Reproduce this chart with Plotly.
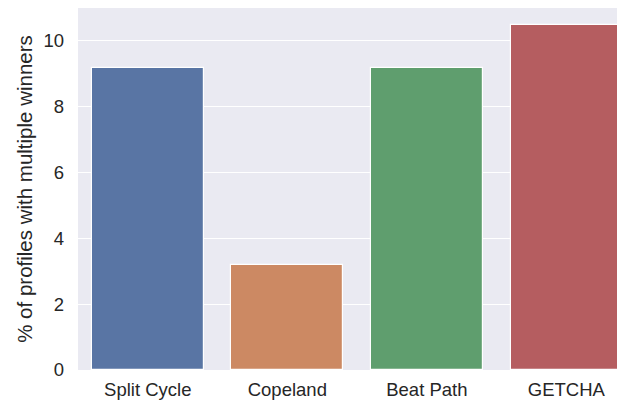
import plotly.graph_objects as go

categories = ["Split Cycle", "Copeland", "Beat Path", "GETCHA"]
values = [9.17, 3.19, 9.17, 10.48]
colors = ["#5975a4", "#cc8963", "#5f9e6e", "#b55d60"]
y_ticks = [0, 2, 4, 6, 8, 10]

fig = go.Figure(go.Bar(
    x=list(range(len(categories))),
    y=values,
    width=0.8,
    marker=dict(color=colors, line=dict(color="white", width=1.2)),
))

font = dict(family="Arial, Liberation Sans, sans-serif", size=18.5, color="#262626")

# page body has an 8px margin; size the figure so it fills the 625x408 window
fig.update_layout(
    width=617, height=400,
    margin=dict(l=70, r=0, t=0, b=38, pad=0),
    paper_bgcolor="white",
    plot_bgcolor="#eaeaf2",
    font=font,
    showlegend=False,
    bargap=0,
)
fig.update_xaxes(
    range=[-0.5, 3.42],
    tickvals=list(range(len(categories))),
    ticktext=categories,
    showgrid=False, zeroline=False, showline=False,
    ticks="", ticklabelstandoff=6, automargin=False,
)
fig.update_yaxes(
    range=[0, 11.0],
    tickvals=y_ticks,
    showgrid=True, gridcolor="white", gridwidth=1.3,
    zeroline=False, showline=False, ticks="",
    ticklabelstandoff=13, automargin=False,
    title=dict(text="% of profiles with multiple winners", standoff=5,
               font=dict(size=20.5)),
)

fig.write_html("out.html")
